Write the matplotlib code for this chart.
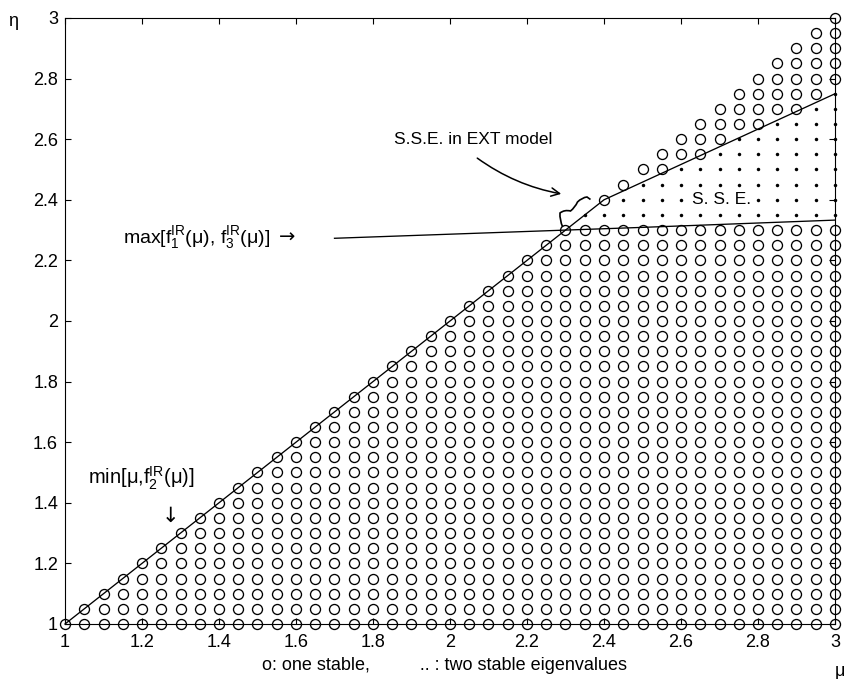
import matplotlib
matplotlib.use("Agg")
import matplotlib.pyplot as plt
import numpy as np
from matplotlib.ticker import FixedLocator, FormatStrFormatter
from matplotlib.path import Path
from matplotlib.patches import PathPatch

plt.rcParams['font.family'] = ['Liberation Sans', 'DejaVu Sans']
plt.rcParams['mathtext.fontset'] = 'custom'
plt.rcParams['mathtext.rm'] = 'Liberation Sans'
plt.rcParams['mathtext.it'] = 'Liberation Sans'
plt.rcParams['mathtext.sf'] = 'Liberation Sans'

# ---------------- data ----------------
mu_grid = [1.00, 1.05, 1.10, 1.15, 1.20, 1.25, 1.30, 1.35, 1.40, 1.45,
           1.50, 1.55, 1.60, 1.65, 1.70, 1.75, 1.80, 1.85, 1.90, 1.95,
           2.00, 2.05, 2.10, 2.15, 2.20, 2.25, 2.30, 2.35, 2.40, 2.45,
           2.50, 2.55, 2.60, 2.65, 2.70, 2.75, 2.80, 2.85, 2.90, 2.95, 3.00]
eta_grid = list(mu_grid)

# columns with two stable eigenvalues (S.S.E.): dots from sse_bottom to sse_top
sse_mu = [2.35, 2.40, 2.45, 2.50, 2.55, 2.60, 2.65, 2.70, 2.75, 2.80,
          2.85, 2.90, 2.95, 3.00]
sse_bottom = [2.35, 2.35, 2.35, 2.35, 2.35, 2.35, 2.35, 2.35, 2.35, 2.35,
              2.35, 2.35, 2.35, 2.35]
sse_top = [2.35, 2.35, 2.40, 2.45, 2.45, 2.50, 2.50, 2.55, 2.60, 2.60,
           2.65, 2.65, 2.70, 2.75]

# boundary curve min[mu, f2(mu)] (upper boundary of stable region)
upper_mu = [1.00, 2.40, 3.00]
upper_eta = [1.00, 2.40, 2.75]
# boundary curve max[f1(mu), f3(mu)]
lower_mu = [1.70, 2.30, 2.50, 3.00]
lower_eta = [2.273, 2.300, 2.309, 2.333]

x_ticks = [1, 1.2, 1.4, 1.6, 1.8, 2, 2.2, 2.4, 2.6, 2.8, 3]
y_ticks = [1, 1.2, 1.4, 1.6, 1.8, 2, 2.2, 2.4, 2.6, 2.8, 3]

# ---------------- classify grid ----------------
sse_lookup = {m: (b, t) for m, b, t in zip(sse_mu, sse_bottom, sse_top)}
circ_x, circ_y, dot_x, dot_y = [], [], [], []
for m in mu_grid:
    for e in eta_grid:
        if e > m + 1e-9:
            continue
        if m in sse_lookup:
            b, t = sse_lookup[m]
            if b - 1e-9 <= e <= t + 1e-9:
                dot_x.append(m); dot_y.append(e)
                continue
        circ_x.append(m); circ_y.append(e)

# ---------------- figure ----------------
W, H = 845, 679
fig = plt.figure(figsize=(W / 100, H / 100), dpi=100)
L, R, T, B = 65, 835, 18, 624
ax = fig.add_axes([L / W, 1 - B / H, (R - L) / W, (B - T) / H])

FS = 12.5
ax.plot(circ_x, circ_y, linestyle='none', marker='o', markersize=7.2,
        markerfacecolor='none', markeredgecolor='black', markeredgewidth=0.95,
        clip_on=False, zorder=3)
ax.plot(dot_x, dot_y, linestyle='none', marker='o', markersize=2.5,
        markerfacecolor='black', markeredgecolor='black', markeredgewidth=0,
        clip_on=False, zorder=3)
ax.plot(upper_mu, upper_eta, color='black', lw=0.95, zorder=4, clip_on=False)
ax.plot(lower_mu, lower_eta, color='black', lw=0.95, zorder=4, clip_on=False)

ax.set_xlim(1, 3)
ax.set_ylim(1, 3)
ax.xaxis.set_major_locator(FixedLocator(x_ticks))
ax.yaxis.set_major_locator(FixedLocator(y_ticks))
ax.xaxis.set_major_formatter(FormatStrFormatter('%g'))
ax.yaxis.set_major_formatter(FormatStrFormatter('%g'))
ax.tick_params(direction='in', length=4, width=0.8, top=True, right=True,
               labelsize=13, colors='black')
ax.tick_params(axis='x', pad=7.5)
ax.tick_params(axis='y', pad=5)
for s in ax.spines.values():
    s.set_linewidth(0.8)

# axis labels
fig.text(13 / W, 1 - 21 / H, 'η', fontsize=13, ha='center', va='center')
fig.text(840 / W, 1 - 672 / H, 'μ', fontsize=13, ha='center', va='center')
fig.text(445 / W, 1 - 666 / H, 'o: one stable,          .. : two stable eigenvalues',
         fontsize=13, ha='center', va='center')

# annotations
ax.text(2.06, 2.598, 'S.S.E. in EXT model', fontsize=FS, ha='center', va='center')
ax.annotate('', xy=(2.296, 2.418), xytext=(2.065, 2.543),
            arrowprops=dict(arrowstyle='->', color='black', lw=1.1,
                            connectionstyle='arc3,rad=0.12',
                            mutation_scale=15))

# hand-drawn squiggle (figure-pixel positions of the sketch)
sq_px = [(562.7, 227.0), (559.5, 220.0), (560.0, 213.0), (564.5, 209.5),
         (570.5, 211.0), (575.0, 207.5), (577.5, 202.0), (582.0, 197.5),
         (587.0, 197.0), (590.5, 199.5)]
sq_disp = [(x, H - y) for x, y in sq_px]
codes = [Path.MOVETO] + [Path.CURVE3] * (len(sq_disp) - 1)
if len(sq_disp) % 2 == 0:
    codes[-1] = Path.LINETO
inv = fig.transFigure
sq_fig = [(x / W, y / H) for x, y in sq_disp]
ax.add_patch(PathPatch(Path(sq_fig, codes), transform=fig.transFigure,
                       facecolor='none', edgecolor='black', lw=1.2,
                       clip_on=False, zorder=6))

ax.text(2.706, 2.40, 'S. S. E.', fontsize=FS, ha='center', va='center',
        bbox=dict(facecolor='white', edgecolor='none', pad=0.3), zorder=5)
ax.text(1.151, 2.274, r'max[$\mathrm{f_1^{IR}}$(μ), $\mathrm{f_3^{IR}}$(μ)]',
        fontsize=14, ha='left', va='center')
ax.text(1.576, 2.276, '→', fontsize=14, ha='center', va='center',
        family='DejaVu Sans')
ax.text(1.06, 1.48, r'min[μ,$\mathrm{f_2^{IR}}$(μ)]', fontsize=14.5,
        ha='left', va='center')
ax.text(1.273, 1.356, '↓', fontsize=15, ha='center', va='center',
        family='DejaVu Sans')

fig.savefig('out.png', dpi=100, facecolor='white')
